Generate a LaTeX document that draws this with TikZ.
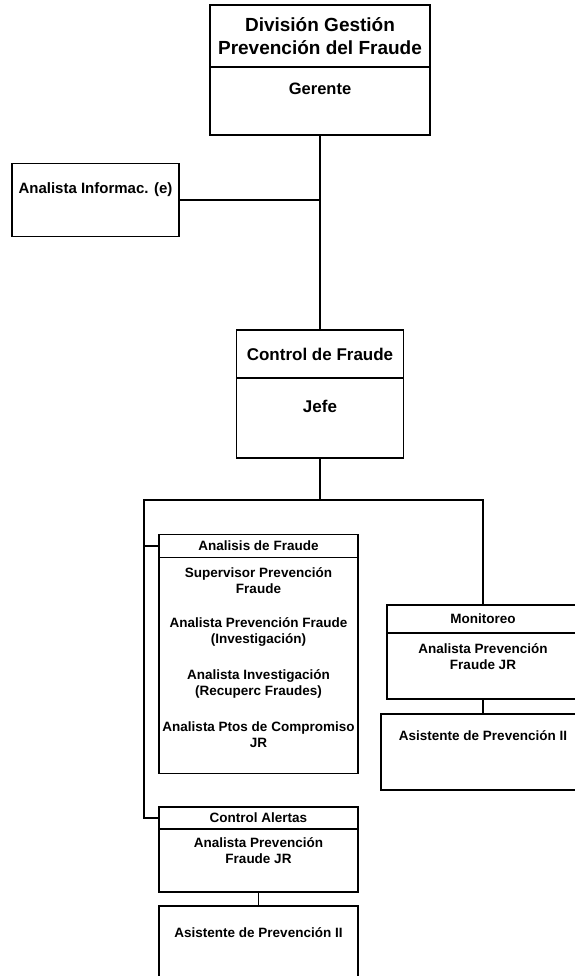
\documentclass[tikz,border=0pt]{standalone}
\usepackage{fontspec}
\setmainfont{Liberation Sans}
\begin{document}
\begin{tikzpicture}[x=1pt,y=-1pt,
  box/.style={draw, line width=1.3pt, rectangle, inner sep=0pt, align=center},
  ln/.style={line width=1.3pt},
  small/.style={font=\bfseries\fontsize{13.5}{16}\selectfont},
  mid/.style={font=\bfseries\fontsize{17}{20}\selectfont},
  txt/.style={inner sep=0pt, anchor=base, small},
]
\useasboundingbox (0,0) rectangle (574,976);

% --- Division ---
\node[box, minimum width=220pt, minimum height=62pt,
      font=\bfseries\fontsize{19}{23}\selectfont] (divH) at (320,36)
  {División Gestión\\Prevención del Fraude};
\node[box, minimum width=220pt, minimum height=68pt] (divB) at (320,101) {};
\node[txt, font=\bfseries\fontsize{16.5}{20}\selectfont] (gerente)
  at ([yshift=-28pt]divB.north) {Gerente};

% --- Analista Informac. ---
\node[box, minimum width=167pt, minimum height=73pt] (ana) at (95.5,200) {};
\node[txt, font=\bfseries\fontsize{15}{18}\selectfont] (anaT)
  at ([yshift=-31pt]ana.north) {Analista Informac. (e)};

% --- Control de Fraude ---
\node[box, minimum width=167pt, minimum height=48pt, mid] (ctlH) at (320,354)
  {Control de Fraude};
\node[box, minimum width=167pt, minimum height=80pt] (ctlB) at (320,418) {};
\node[txt, mid] (jefe) at ([yshift=-35pt]ctlB.north) {Jefe};

% --- Analisis de Fraude ---
\node[box, minimum width=199pt, minimum height=23pt, small] (afH) at (258.5,546)
  {Analisis de Fraude};
\node[box, minimum width=199pt, minimum height=216pt] (afB) at (258.5,665.5) {};
\node[txt] (af1) at (258.5,577) {Supervisor Prevención};
\node[txt] (af2) at (258.5,593) {Fraude};
\node[txt] (af3) at (258.5,627) {Analista Prevención Fraude};
\node[txt] (af4) at (258.5,643) {(Investigación)};
\node[txt] (af5) at (258.5,679) {Analista Investigación};
\node[txt] (af6) at (258.5,695) {(Recuperc Fraudes)};
\node[txt] (af7) at (258.5,731) {Analista Ptos de Compromiso};
\node[txt] (af8) at (258.5,747) {JR};

% --- Monitoreo ---
\node[box, minimum width=192pt, minimum height=28pt, small] (monH) at (483,619)
  {Monitoreo};
\node[box, minimum width=192pt, minimum height=66pt] (monB) at (483,666) {};
\node[txt] (mon1) at (483,653) {Analista Prevención};
\node[txt] (mon2) at (483,669) {Fraude JR};
\node[box, minimum width=204pt, minimum height=76pt] (asR) at (483,752) {};
\node[txt] (asRT) at (483,740) {Asistente de Prevención II};

% --- Control Alertas ---
\node[box, minimum width=199pt, minimum height=22pt, small] (caH) at (258.5,818)
  {Control Alertas};
\node[box, minimum width=199pt, minimum height=63pt] (caB) at (258.5,860.5) {};
\node[txt] (ca1) at (258.5,847) {Analista Prevención};
\node[txt] (ca2) at (258.5,863) {Fraude JR};
\node[box, minimum width=199pt, minimum height=84pt] (asB) at (258.5,948) {};
\node[txt] (asBT) at (258.5,937) {Asistente de Prevención II};

% --- connectors ---
\coordinate (busL) at (144,500);
\coordinate (bus) at (320,500);
\draw[ln] (divB.south) -- (ctlH.north);
\draw[ln] (ana.east) -- (ana.east -| divB.south);
\draw[ln] (ctlB.south) -- (bus);
\draw[ln] (caH.west) -| (busL) -| (monH.north);
\draw[ln] (afH.west) -- (afH.west -| busL);
\draw[ln] (monB.south) -- (asR.north);
\draw[ln] (caB.south) -- (asB.north);
\end{tikzpicture}
\end{document}
